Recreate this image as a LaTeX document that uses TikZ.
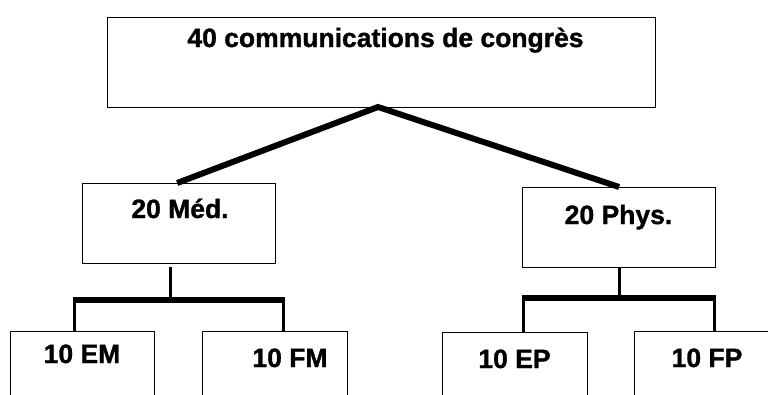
\documentclass[tikz,border=0pt]{standalone}
\usepackage{fontspec}
\setmainfont{Liberation Sans}
\newfontfamily\lblfont{Liberation Sans Bold}[FakeBold=1.2]
\begin{document}
\begin{tikzpicture}[x=1pt,y=-1pt,
  box/.style={draw=black,line width=1.3pt,fill=none,inner sep=0pt,anchor=north west},
  lbl/.style={inner sep=0pt,anchor=base,font=\lblfont\fontsize{26.5}{30}\selectfont},
  diag/.style={line width=6pt,line join=miter},
  stemline/.style={line width=3pt},
  barline/.style={line width=6pt}]
\useasboundingbox[fill=white] (0,0) rectangle (768,394);
% boxes
\node[box,minimum width=548pt,minimum height=90pt] (top) at (107,17) {};
\node[box,minimum width=193pt,minimum height=80pt] (med) at (82,183) {};
\node[box,minimum width=193pt,minimum height=80pt] (phys) at (522,187) {};
\node[box,minimum width=144pt,minimum height=100pt] (em) at (10,331) {};
\node[box,minimum width=145pt,minimum height=100pt] (fm) at (202,331) {};
\node[box,minimum width=145pt,minimum height=100pt] (ep) at (442,332) {};
\node[box,minimum width=160pt,minimum height=100pt] (fp) at (634,331) {};
% labels
\node[lbl] (t0) at (385.5,47) {40 communications de congrès};
\node[lbl] (t1) at (180,218) {20 Méd.};
\node[lbl] (t2) at (618.5,224) {20 Phys.};
\node[lbl] (t3) at (82,363) {10 EM};
\node[lbl] (t4) at (290,367) {10 FM};
\node[lbl] (t5) at (514.5,368) {10 EP};
\node[lbl] (t6) at (707,367) {10 FP};
% top connectors
\coordinate (apex) at (378,107);
\draw[diag] ([xshift=-2pt]med.north) -- (apex) -- (phys.north);
% left subtree
\coordinate (ms) at (170,267);
\coordinate (mj) at (170,300);
\coordinate (ml) at (74,300);
\coordinate (mr) at (283,300);
\draw[stemline] (ms) -- (mj);
\draw[barline] ([xshift=-1.5pt]ml) -- ([xshift=1.5pt]mr);
\draw[stemline] (ml) -- (ml |- em.north);
\draw[stemline] (mr) -- (mr |- fm.north);
% right subtree
\coordinate (pj) at (619,298);
\coordinate (pl) at (523,298);
\coordinate (pr) at (714,298);
\draw[stemline] (phys.south -| pj) -- (pj);
\draw[barline] ([xshift=-1.5pt]pl) -- ([xshift=1.5pt]pr);
\draw[stemline] (pl) -- (pl |- ep.north);
\draw[stemline] (pr) -- (pr |- fp.north);
\end{tikzpicture}
\end{document}
